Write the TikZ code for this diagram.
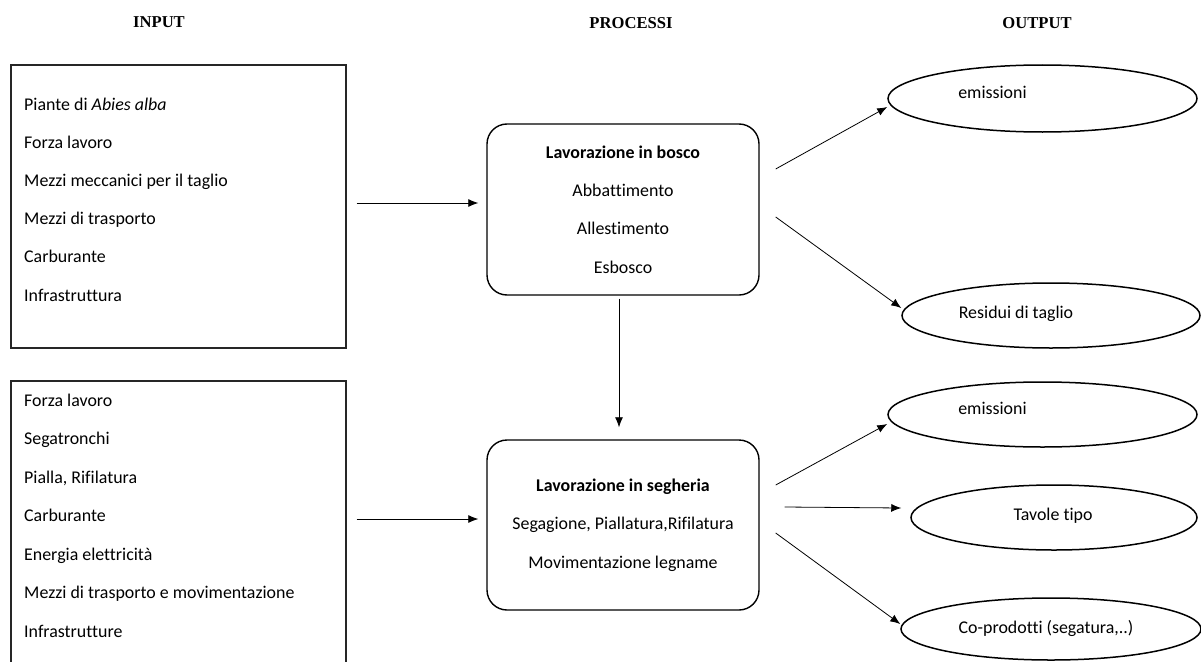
\documentclass[tikz,border=0pt]{standalone}
\usepackage{fontspec}
\setmainfont[Ligatures=NoCommon]{Carlito}
\newfontfamily\headfont{Liberation Serif}
\usetikzlibrary{arrows.meta,shapes.geometric,positioning}

\tikzset{
  inbox/.style={draw=black!85, line width=1.4pt, minimum width=335pt, inner sep=0pt},
  item/.style={anchor=base west, inner sep=0pt, font=\fontsize{17.9}{20}\selectfont},
  procbox/.style={draw, line width=1.4pt, rounded corners=20pt, minimum width=272pt,
    minimum height=171pt, align=center, font=\fontsize{17.9}{38.3}\selectfont},
  outell/.style={draw, ellipse, line width=1.5pt, inner sep=0pt},
  outtxt/.style={anchor=base, inner sep=0pt, font=\fontsize{17.9}{20}\selectfont},
  head/.style={font=\headfont\bfseries\fontsize{16.6}{18}\selectfont},
  flow/.style={-{Latex[length=10pt,width=8pt]}, line width=0.8pt},
}

\begin{document}
\begin{tikzpicture}[x=1pt,y=-1pt]
  \useasboundingbox (0,0) rectangle (1201,661);

  \node[head] (hin) at (159,22) {INPUT};
  \node[head] (hproc) at (631,23) {PROCESSI};
  \node[head] (hout) at (1037,23) {OUTPUT};

  % input lists
  \node[inbox, minimum height=283pt] (in1) at (178.5,206.5) {};
  \foreach \t [count=\i] in {Piante di \textit{Abies alba}, Forza lavoro,
      Mezzi meccanici per il taglio, Mezzi di trasporto, Carburante, Infrastruttura}
    \node[item] (a\i) at (24,{110+38.2*(\i-1)}) {\t};

  \node[inbox, minimum height=320pt] (in2) at (178.5,541) {};
  \foreach \t [count=\i] in {Forza lavoro, Segatronchi, {Pialla, Rifilatura},
      Carburante, Energia elettricità, Mezzi di trasporto e movimentazione, Infrastrutture}
    \node[item] (b\i) at (24,{406+38.5*(\i-1)}) {\t};

  % processes
  \node[procbox] (pb) at (623,209.5)
    {\textbf{Lavorazione in bosco}\\Abbattimento\\Allestimento\\Esbosco};
  \node[procbox, minimum height=170pt] (ps) at (623,525)
    {\textbf{Lavorazione in segheria}\\Segagione, Piallatura,Rifilatura\\Movimentazione legname};

  % outputs
  \node[outell, minimum width=309pt, minimum height=67pt] (e1) at (1042.5,98.5) {};
  \node[outtxt] (t1) at ([xshift=-50]e1.center) {emissioni};
  \node[outell, minimum width=298pt, minimum height=65pt] (e2) at (1051,315.5) {};
  \node[outtxt] (t2) at ([xshift=-35,yshift=-2.5]e2.center) {Residui di taglio};
  \node[outell, minimum width=309pt, minimum height=65pt] (e3) at (1042.5,414.5) {};
  \node[outtxt] (t3) at ([xshift=-50]e3.center) {emissioni};
  \node[outell, minimum width=286pt, minimum height=65pt] (e4) at (1054,517.5) {};
  \node[outtxt] (t4) at ([xshift=-1,yshift=-2.5]e4.center) {Tavole tipo};
  \node[outell, minimum width=300pt, minimum height=62pt] (e5) at (1051,629) {};
  \node[outtxt] (t5) at ([xshift=-5,yshift=-4]e5.center) {Co-prodotti (segatura,..)};

  \draw[flow] ([xshift=10,yshift=3.5]in1.east) -- ([xshift=-8,yshift=6.5]pb.west);
  \draw[flow] ([xshift=10,yshift=22]in2.east) -- ([xshift=-8,yshift=6]ps.west);
  \draw[flow] ([xshift=-4,yshift=-3]pb.south) -- ([xshift=-4,yshift=12]ps.north);

  \draw[flow] ([xshift=16,yshift=40.5]pb.east) -- ([yshift=-8.5]e1.west);
  \draw[flow] ([xshift=16,yshift=-7.5]pb.east) -- ([yshift=7.5]e2.west);
  \draw[flow] ([xshift=16,yshift=40]ps.east) -- ([yshift=-9.5]e3.west);
  \draw[flow] ([xshift=25,yshift=18]ps.east) -- ([xshift=-9,yshift=9.5]e4.west);
  \draw[flow] ([xshift=16,yshift=-8]ps.east) -- ([yshift=5]e5.west);
\end{tikzpicture}
\end{document}
